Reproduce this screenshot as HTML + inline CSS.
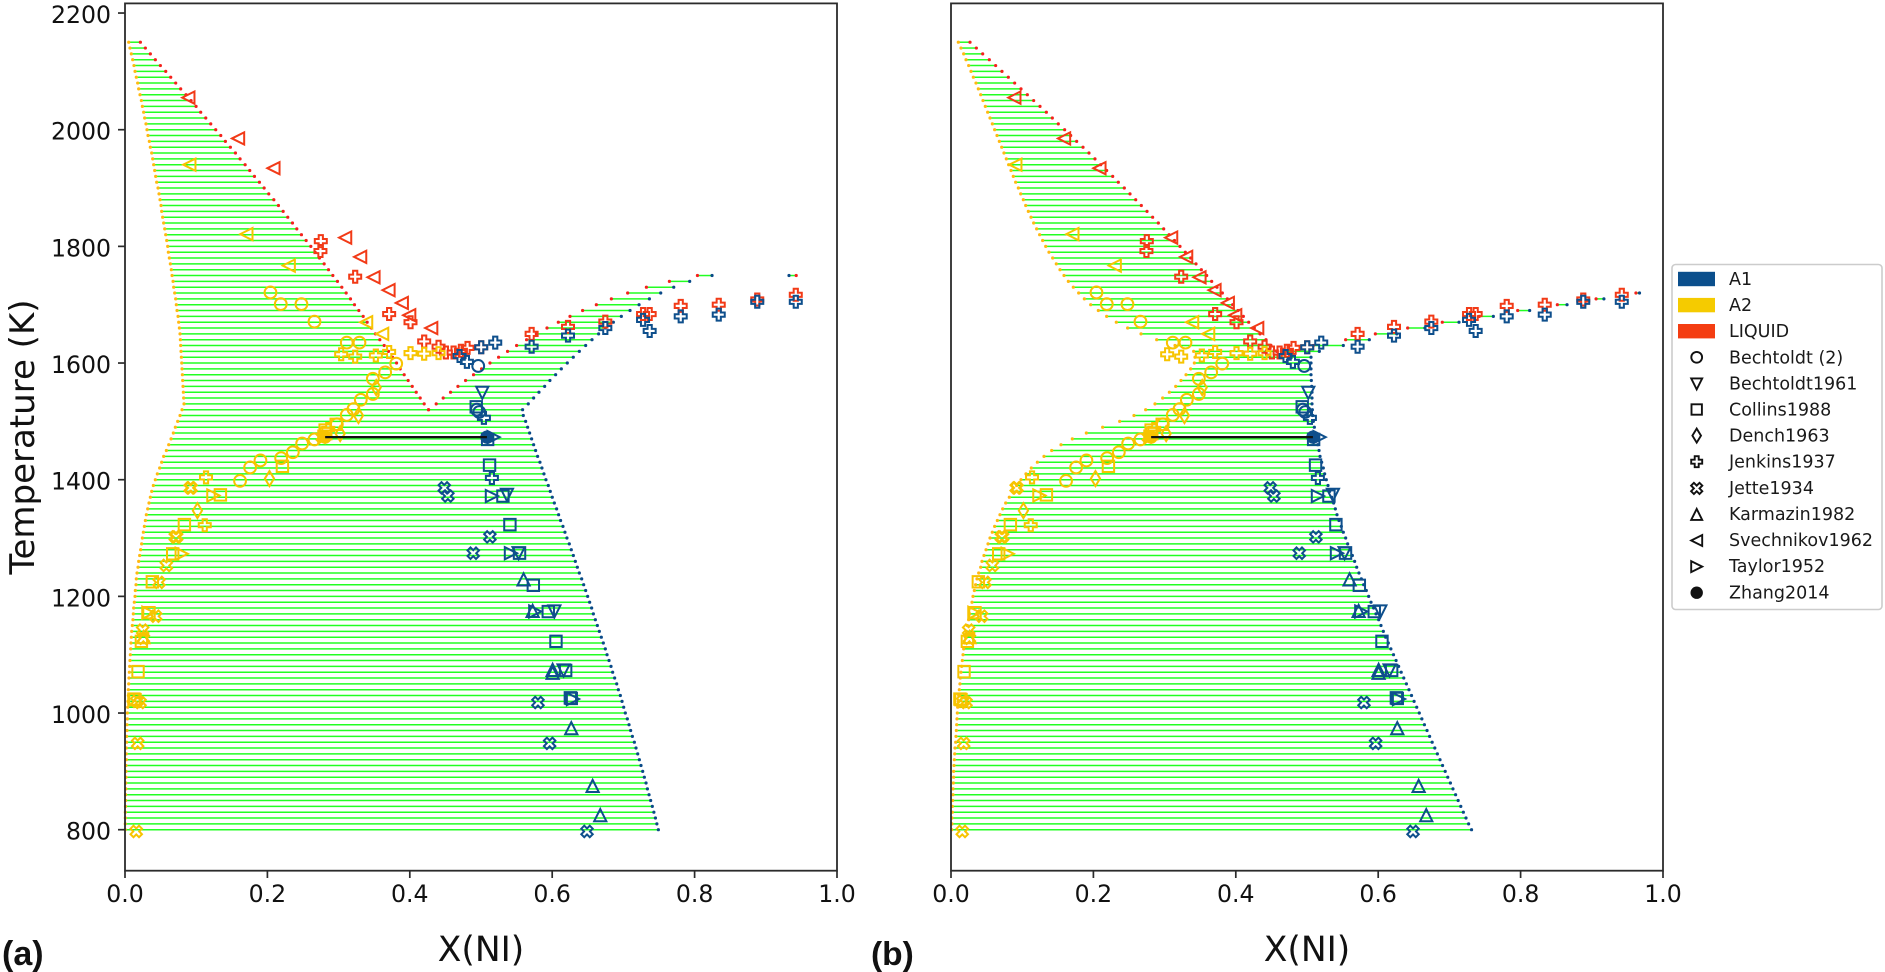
<!DOCTYPE html>
<html lang="en">
<head>
<meta charset="utf-8">
<title>Phase diagrams (a) and (b)</title>
<style>
html,body{margin:0;padding:0;background:#fff;width:1885px;height:972px;overflow:hidden}
svg{display:block;font-family:"DejaVu Sans","Liberation Sans",sans-serif}
.leg{font-size:17.5px;fill:#1a1a1a}
.mk{fill:none;stroke:#111;stroke-width:1.9}
</style>
</head>
<body>
<svg id="chart" xmlns="http://www.w3.org/2000/svg" width="1885" height="972" viewBox="0 0 1885 972">
  <rect width="1885" height="972" fill="#fff"/>
  <g id="panel-a"></g>
  <g id="panel-b"></g>
  <text x="2" y="965" font-family="'Liberation Sans',sans-serif" font-weight="bold" font-size="34" fill="#111">(a)</text>
  <text x="871" y="965" font-family="'Liberation Sans',sans-serif" font-weight="bold" font-size="33.5" fill="#111">(b)</text>
  <text transform="translate(34,437) rotate(-90)" text-anchor="middle" font-size="34" fill="#111">Temperature (K)</text>
  <g>
    <rect x="1672" y="264.5" width="210" height="345" rx="3.5" fill="#fff" stroke="#ccc" stroke-width="1.6"/>
    <g><rect x="1678" y="271.8" width="37" height="14.4" fill="#0B4F8C"/><text class="leg" x="1729" y="285">A1</text></g>
    <g><rect x="1678" y="297.9" width="37" height="14.4" fill="#F5CB00"/><text class="leg" x="1729" y="311.1">A2</text></g>
    <g><rect x="1678" y="324" width="37" height="14.4" fill="#F43D12"/><text class="leg" x="1729" y="337.2">LIQUID</text></g>
    <g><circle class="mk" cx="1696.7" cy="357.3" r="5.4"/><text class="leg" x="1729" y="363.3">Bechtoldt (2)</text></g>
    <g><path class="mk" d="M1691.2 378.4H1702.2L1696.7 389.4Z"/><text class="leg" x="1729" y="389.4">Bechtoldt1961</text></g>
    <g><rect class="mk" x="1691.5" y="404.3" width="10.4" height="10.4"/><text class="leg" x="1729" y="415.5">Collins1988</text></g>
    <g><path class="mk" d="M1696.7 428.6L1701 435.6L1696.7 442.6L1692.4 435.6Z"/><text class="leg" x="1729" y="441.6">Dench1963</text></g>
    <g><path class="mk" d="M1694.7 456.2H1698.7V459.7H1702.2V463.7H1698.7V467.2H1694.7V463.7H1691.2V459.7H1694.7Z"/><text class="leg" x="1729" y="467.7">Jenkins1937</text></g>
    <g><path class="mk" d="M1693.9 482.8L1696.7 485.6L1699.5 482.8L1702.3 485.6L1699.5 488.4L1702.3 491.2L1699.5 494L1696.7 491.2L1693.9 494L1691.1 491.2L1693.9 488.4L1691.1 485.6Z"/><text class="leg" x="1729" y="493.8">Jette1934</text></g>
    <g><path class="mk" d="M1696.7 508.9L1702.2 519.9H1691.2Z"/><text class="leg" x="1729" y="520">Karmazin1982</text></g>
    <g><path class="mk" d="M1691.2 540.5L1702.2 535V546Z"/><text class="leg" x="1729" y="546.1">Svechnikov1962</text></g>
    <g><path class="mk" d="M1702.2 566.6L1691.2 561.1V572.1Z"/><text class="leg" x="1729" y="572.2">Taylor1952</text></g>
    <g><circle cx="1696.7" cy="592.7" r="6.2" fill="#111"/><text class="leg" x="1729" y="598.3">Zhang2014</text></g>
  </g>
</svg>
<script>
/* ---------- axis ticks ---------- */
const xTickValues = [0.0, 0.2, 0.4, 0.6, 0.8, 1.0];
const xTickLabels = ["0.0", "0.2", "0.4", "0.6", "0.8", "1.0"];
const yTickValues = [800, 1000, 1200, 1400, 1600, 1800, 2000, 2200];
const yTickLabels = ["800", "1000", "1200", "1400", "1600", "1800", "2000", "2200"];

/* ---------- panel (a) tie lines ---------- */
const aTempsUpper = [2150,2140,2130,2120,2110,2100,2090,2080,2070,2060,2050,2040,2030,2020,2010,2000,1990,1980,1970,1960,1950,1940,1930,1920,1910,1900,1890,1880,1870,1860,1850,1840,1830,1820,1810,1800,1790,1780,1770,1760,1750,1740,1730,1720,1710,1700,1690,1680,1670,1660,1650,1640,1630,1620,1610,1600,1590,1580,1570,1560,1550,1540,1530,1520];
const aA2Upper = [.0052,.0070,.0089,.0108,.0126,.0141,.0159,.0178,.0192,.0211,.0230,.0244,.0262,.0276,.0295,.0309,.0323,.0342,.0356,.0375,.0389,.0403,.0417,.0431,.0445,.0464,.0478,.0492,.0506,.0515,.0529,.0543,.0558,.0572,.0586,.0600,.0609,.0623,.0637,.0651,.0661,.0675,.0684,.0698,.0712,.0721,.0731,.0745,.0754,.0764,.0773,.0778,.0782,.0787,.0792,.0797,.0801,.0806,.0810,.0815,.0820,.0824,.0829,.0801];
const aLiquidLeft = [.0216,.0286,.0356,.0426,.0497,.0572,.0642,.0712,.0782,.0857,.0928,.0998,.1063,.1134,.1204,.1274,.1345,.1410,.1480,.1551,.1616,.1687,.1752,.1818,.1888,.1954,.2019,.2090,.2155,.2221,.2286,.2352,.2413,.2478,.2544,.2610,.2670,.2731,.2797,.2858,.2919,.2984,.3045,.3106,.3167,.3223,.3284,.3345,.3401,.3462,.3518,.3579,.3640,.3701,.3757,.3814,.3865,.3921,.3977,.4034,.4090,.4146,.4202,.4263];
const aTempsRight = [1750,1740,1730,1720,1710,1700,1690,1680,1670,1660,1650,1640,1630,1620,1610,1600,1590,1580,1570,1560,1550,1540,1530,1520];
const aLiquidRight = [.8040,.7646,.7323,.7060,.6831,.6620,.6427,.6250,.6086,.5927,.5777,.5640,.5500,.5373,.5247,.5126,.5008,.4895,.4783,.4676,.4572,.4469,.4371,.4263];
const aA1Right = [.8245,.7931,.7707,.7524,.7365,.7220,.7093,.6971,.6859,.6746,.6652,.6559,.6470,.6381,.6296,.6212,.6128,.6048,.5968,.5894,.5814,.5739,.5664,.5584];
const aTempsLower = [1510,1500,1490,1480,1470,1460,1450,1440,1430,1420,1410,1400,1390,1380,1370,1360,1350,1340,1330,1320,1310,1300,1290,1280,1270,1260,1250,1240,1230,1220,1210,1200,1190,1180,1170,1160,1150,1140,1130,1120,1110,1100,1090,1080,1070,1060,1050,1040,1030,1020,1010,1000,990,980,970,960,950,940,930,920,910,900,890,880,870,860,850,840,830,820,810,800];
const aA2Lower = [.0773,.0740,.0707,.0679,.0647,.0614,.0581,.0543,.0515,.0487,.0454,.0426,.0398,.0375,.0356,.0337,.0319,.0300,.0286,.0272,.0258,.0244,.0234,.0220,.0206,.0192,.0183,.0169,.0159,.0155,.0145,.0141,.0131,.0122,.0117,.0112,.0103,.0094,.0089,.0084,.0080,.0075,.0070,.0066,.0061,.0056,.0052,.0047,.0047,.0042,.0038,.0033,.0033,.0028,.0028,.0023,.0023,.0019,.0019,.0019,.0014,.0014,.0014,.0012,.0012,.0009,.0009,.0007,.0005,.0005,.0004,.0003];
const aA1Lower = [.5594,.5627,.5655,.5683,.5711,.5739,.5767,.5795,.5828,.5856,.5884,.5912,.5945,.5973,.6001,.6030,.6062,.6090,.6118,.6151,.6179,.6207,.6240,.6268,.6297,.6325,.6353,.6381,.6414,.6442,.6470,.6498,.6526,.6554,.6578,.6606,.6634,.6662,.6690,.6718,.6746,.6770,.6798,.6826,.6849,.6877,.6906,.6929,.6957,.6981,.7004,.7027,.7055,.7079,.7102,.7126,.7154,.7177,.7201,.7224,.7247,.7271,.7294,.7318,.7337,.7360,.7383,.7406,.7428,.7450,.7470,.7491];
const aIslandTemps = [1750];
const aIslandA1 = [.9326];
const aIslandLiquid = [.9427];

/* ---------- panel (b) tie lines ---------- */
const bTempsUpper = [2150,2140,2130,2120,2110,2100,2090,2080,2070,2060,2050,2040,2030,2020,2010,2000,1990,1980,1970,1960,1950,1940,1930,1920,1910,1900,1890,1880,1870,1860,1850,1840,1830,1820,1810,1800,1790,1780,1770,1760,1750,1740,1730,1720,1710,1700,1690,1680,1670,1660,1650,1640,1630,1620];
const bA2Upper = [.0103,.0140,.0178,.0211,.0248,.0281,.0314,.0351,.0384,.0417,.0449,.0482,.0515,.0548,.0581,.0613,.0646,.0679,.0712,.0744,.0777,.0810,.0843,.0875,.0908,.0946,.0979,.1016,.1049,.1086,.1124,.1161,.1203,.1245,.1287,.1330,.1376,.1428,.1479,.1531,.1587,.1648,.1718,.1793,.1873,.1962,.2069,.2186,.2322,.2481,.2669,.2889,.3146,.3408];
const bLiquidLeft = [.0267,.0356,.0445,.0538,.0627,.0716,.0805,.0894,.0983,.1072,.1161,.1250,.1339,.1423,.1507,.1596,.1681,.1765,.1854,.1938,.2022,.2102,.2186,.2271,.2350,.2434,.2514,.2594,.2673,.2753,.2832,.2912,.2987,.3063,.3139,.3216,.3291,.3366,.3441,.3516,.3591,.3661,.3736,.3811,.3881,.3956,.4031,.4106,.4181,.4260,.4340,.4424,.4494,.4574];
const bTempsRight = [1720,1710,1700,1690,1680,1670,1660,1650,1640,1630,1620];
const bLiquidRight = [.9620,.9060,.8516,.7959,.7420,.6900,.6414,.5960,.5543,.5089,.4640];
const bA1Right = [.9670,.9170,.8652,.8127,.7617,.7135,.6657,.6262,.5875,.5510,.5173];
const bTempsLower = [1610,1600,1590,1580,1570,1560,1550,1540,1530,1520,1510,1500,1490,1480,1470,1460,1450,1440,1430,1420,1410,1400,1390,1380,1370,1360,1350,1340,1330,1320,1310,1300,1290,1280,1270,1260,1250,1240,1230,1220,1210,1200,1190,1180,1170,1160,1150,1140,1130,1120,1110,1100,1090,1080,1070,1060,1050,1040,1030,1020,1010,1000,990,980,970,960,950,940,930,920,910,900,890,880,870,860,850,840,830,820,810,800];
const bA2Lower = [.3427,.3418,.3366,.3301,.3230,.3156,.3067,.2973,.2865,.2734,.2570,.2369,.2130,.1901,.1704,.1545,.1414,.1306,.1213,.1128,.1053,.0983,.0922,.0866,.0819,.0768,.0726,.0688,.0651,.0613,.0580,.0548,.0520,.0492,.0463,.0435,.0417,.0389,.0365,.0346,.0328,.0309,.0295,.0276,.0262,.0248,.0229,.0215,.0201,.0192,.0178,.0169,.0159,.0150,.0140,.0131,.0126,.0117,.0108,.0103,.0094,.0089,.0084,.0080,.0075,.0070,.0066,.0056,.0052,.0047,.0042,.0037,.0037,.0033,.0028,.0028,.0023,.0019,.0019,.0014,.0014,.0009];
const bA1Lower = [.5056,.5056,.5056,.5056,.5061,.5066,.5070,.5070,.5070,.5075,.5080,.5089,.5103,.5117,.5136,.5150,.5169,.5183,.5206,.5229,.5248,.5271,.5295,.5318,.5346,.5374,.5398,.5421,.5449,.5482,.5510,.5543,.5571,.5604,.5637,.5669,.5698,.5730,.5763,.5796,.5833,.5866,.5899,.5936,.5969,.6007,.6039,.6072,.6105,.6142,.6178,.6215,.6251,.6287,.6323,.6359,.6396,.6432,.6468,.6504,.6541,.6577,.6613,.6649,.6686,.6722,.6758,.6795,.6831,.6868,.6904,.6941,.6977,.7014,.7050,.7087,.7123,.7160,.7196,.7233,.7270,.7311];

/* ---------- measured tie line ---------- */
const zhangTieX = [.2811, .5083];
const zhangTieT = [1473, 1473];

/* ---------- experimental points: Bechtoldt (2) ---------- */
const bechtoldt2A2X = [.1616,.1757,.1902,.2193,.2357,.2488,.2661,.2975,.3115,.3209,.3312,.3481,.3481,.3654,.3809,.2043,.2188,.2478,.2661,.3115,.3293];
const bechtoldt2A2T = [1398,1421,1433,1437,1447,1462,1469,1495,1511,1521,1537,1547,1573,1584,1599,1721,1701,1701,1671,1635,1635];
const bechtoldt2A1X = [.4961,.4942,.4975];
const bechtoldt2A1T = [1595,1520,1516];
/* Bechtoldt1961 */
const bechtoldt61A2X = [.2811];
const bechtoldt61A2T = [1474];
const bechtoldt61A1X = [.5018,.5364,.5528,.6030,.6160];
const bechtoldt61A1T = [1549,1374,1274,1174,1073];
/* Collins1988 */
const collinsA2X = [.2211,.1340,.0834,.0670,.0384,.0337,.0230,.0183,.0141,.0125,.2820,.2966,.2811];
const collinsA2T = [1423,1374,1323,1273,1225,1172,1123,1071,1023,1024,1479,1495,1485];
const collinsA1X = [.4933,.5093,.5120,.5308,.5406,.5541,.5735,.5945,.6053,.6189,.6268,.6255];
const collinsA1T = [1525,1469,1425,1372,1323,1274,1219,1174,1123,1073,1025,1026];
/* Dench1963 */
const denchA2X = [.1017,.2029,.3279,.3022,.3528];
const denchA2T = [1347,1402,1510,1479,1558];
/* Jenkins1937 */
const jenkinsLiquidX = [.2750,.2745,.3233,.3710,.4010,.4202,.4404,.4507,.4615,.4718,.4811,.5003,.5711,.6222,.6746,.7276,.7369,.7805,.8339,.8880,.9421];
const jenkinsLiquidT = [1809,1792,1748,1684,1670,1637,1628,1618,1618,1621,1626,1627,1650,1662,1671,1684,1684,1698,1700,1709,1717];
const jenkinsA1X = [.5003,.5200,.4699,.4802,.5711,.6222,.6746,.7276,.7369,.7805,.8339,.8880,.9421,.5041,.5153];
const jenkinsA1T = [1627,1635,1612,1602,1628,1647,1660,1674,1655,1680,1683,1705,1705,1506,1403];
const jenkinsA2X = [.3036,.3233,.3523,.3710,.4010,.4202,.4404,.1138,.1120,.2855];
const jenkinsA2T = [1615,1611,1613,1619,1617,1616,1617,1404,1322,1487];
/* Jette1934 */
const jetteA2X = [.0928,.0915,.0726,.0706,.0581,.0478,.0431,.0248,.0258,.0211,.0165,.0178,.0158,.2770];
const jetteA2T = [1386,1386,1302,1302,1253,1224,1166,1142,1128,1018,1020,948,797,1473];
const jetteA1X = [.4484,.4535,.5125,.4891,.5800,.5964,.6489];
const jetteA1T = [1386,1372,1302,1274,1018,948,797];
/* Karmazin1982 */
const karmazinA2X = [.0260];
const karmazinA2T = [1130];
const karmazinA1X = [.5598,.5725,.6006,.6006,.6268,.6568,.6675];
const karmazinA1T = [1229,1175,1074,1069,974,875,825];
/* Svechnikov1962 */
const svechnikovLiquidX = [.0890,.1588,.2085,.3092,.3303,.3490,.3701,.3888,.3992,.4301];
const svechnikovLiquidT = [2055,1985,1934,1815,1782,1747,1725,1703,1682,1660];
const svechnikovA2X = [.0904,.1705,.2300,.3387,.3612];
const svechnikovA2T = [1940,1821,1767,1670,1650];
/* Taylor1952 */
const taylorA2X = [.1241,.0796,.0328,.2800];
const taylorA2T = [1373,1273,1172,1473];
const taylorA1X = [.5153,.5420,.5762,.6292,.5177];
const taylorA1T = [1372,1274,1174,1024,1473];
/* Zhang2014 */
const zhangA2X = [.2811];
const zhangA2T = [1473];
const zhangA1X = [.5083];
const zhangA1T = [1473];

const COL = {A1:"#0E4F8C", A2:"#F7C400", LIQ:"#F23A17", dotA1:"#0A4A88", dotA2:"#FFB910", dotLIQ:"#F4221C", tie:"#22FF22"};
const SVGNS = "http://www.w3.org/2000/svg";

function yScale(T){ return 829.7 - (T - 800) * 0.58333; }
function xScale(left, X){ return left + X * 712; }
function node(tag, parent){
  const n = document.createElementNS(SVGNS, tag);
  parent.appendChild(n);
  return n;
}

function drawAxes(g, left, showY){
  const frame = node("rect", g);
  
  
  frame.setAttribute("x", left); frame.setAttribute("y", 3.4);
  frame.setAttribute("width", 712); frame.setAttribute("height", 867.3);
  frame.setAttribute("fill", "none"); frame.setAttribute("stroke", "#2b2b2b"); frame.setAttribute("stroke-width", 1.8);
  xTickValues.forEach((v, i) => {
    const t = node("line", g);
    
    
    t.setAttribute("x1", xScale(left, v)); t.setAttribute("x2", xScale(left, v));
    t.setAttribute("y1", 870.7); t.setAttribute("y2", 878);
    t.setAttribute("stroke", "#2b2b2b"); t.setAttribute("stroke-width", 1.7);
    const lb = node("text", g);
    
    
    lb.setAttribute("x", xScale(left, v)); lb.setAttribute("y", 902);
    lb.setAttribute("text-anchor", "middle"); lb.setAttribute("font-size", 23.6); lb.setAttribute("fill", "#111");
    lb.textContent = xTickLabels[i];
  });
  if (showY) {
    yTickValues.forEach((v, i) => {
      const t = node("line", g);
      
      
      t.setAttribute("x1", left - 7); t.setAttribute("x2", left);
      t.setAttribute("y1", yScale(v)); t.setAttribute("y2", yScale(v));
      t.setAttribute("stroke", "#2b2b2b"); t.setAttribute("stroke-width", 1.7);
      const lb = node("text", g);
      
      
      lb.setAttribute("x", left - 14); lb.setAttribute("y", yScale(v) + 10);
      lb.setAttribute("text-anchor", "end"); lb.setAttribute("font-size", 23.6); lb.setAttribute("fill", "#111");
      lb.textContent = yTickLabels[i];
    });
  }
  const title = node("text", g);
  
  
  title.setAttribute("x", left + 356); title.setAttribute("y", 961);
  title.setAttribute("text-anchor", "middle"); title.setAttribute("font-size", 34.5); title.setAttribute("fill", "#111");
  title.textContent = "X(NI)";
}

function drawTies(lineLayer, dotLayer, left, temps, xa, xb, colA, colB){
  temps.forEach((T, i) => {
    const y = yScale(T);
    const x1 = xScale(left, xa[i]);
    const x2 = xScale(left, xb[i]);
    const l = node("line", lineLayer);
    
    
    l.setAttribute("x1", x1); l.setAttribute("x2", x2);
    l.setAttribute("y1", y); l.setAttribute("y2", y);
    l.setAttribute("stroke", COL.tie); l.setAttribute("stroke-width", 1.5);
    const d1 = node("circle", dotLayer);
    
    
    d1.setAttribute("cx", x1); d1.setAttribute("cy", y); d1.setAttribute("r", 1.6); d1.setAttribute("fill", colA);
    const d2 = node("circle", dotLayer);
    
    
    d2.setAttribute("cx", x2); d2.setAttribute("cy", y); d2.setAttribute("r", 1.6); d2.setAttribute("fill", colB);
  });
}

function plusPoints(h, a, rot){
  const base = [[-a,-h],[a,-h],[a,-a],[h,-a],[h,a],[a,a],[a,h],[-a,h],[-a,a],[-h,a],[-h,-a],[-a,-a]];
  const c = Math.cos(rot), s = Math.sin(rot);
  return base.map(p => [p[0]*c - p[1]*s, p[0]*s + p[1]*c]);
}
function shapePath(shape, x, y){
  const r = 6.1;
  let pts;
  if (shape === "down") pts = [[-r,-r],[r,-r],[0,r]];
  else if (shape === "up") pts = [[0,-r],[r,r],[-r,r]];
  else if (shape === "left") pts = [[-r,0],[r,-r],[r,r]];
  else if (shape === "right") pts = [[r,0],[-r,-r],[-r,r]];
  else if (shape === "square") pts = [[-5.7,-5.7],[5.7,-5.7],[5.7,5.7],[-5.7,5.7]];
  else if (shape === "diamond") pts = [[0,-7.5],[4.6,0],[0,7.5],[-4.6,0]];
  else if (shape === "plus") pts = plusPoints(6, 2.1, 0);
  else pts = plusPoints(6, 2.1, Math.PI / 4);
  return "M" + pts.map(p => (x + p[0]).toFixed(2) + " " + (y + p[1]).toFixed(2)).join("L") + "Z";
}

function drawMarkers(g, left, shape, color, xs, ts, seriesName){
  xs.forEach((X, i) => {
    const px = xScale(left, X);
    const py = yScale(ts[i]);
    let m;
    if (shape === "circle" || shape === "filled") {
      m = node("circle", g);
      m.setAttribute("cx", px); m.setAttribute("cy", py);
      m.setAttribute("r", shape === "filled" ? 6.6 : 5.9);
    } else {
      m = node("path", g);
      m.setAttribute("d", shapePath(shape, px, py));
    }
    
    
    if (shape === "filled") {
      m.setAttribute("fill", color);
    } else {
      m.setAttribute("fill", "none");
      m.setAttribute("stroke", color);
      m.setAttribute("stroke-width", 2);
    }
  });
}

const markerSeries = [
  ["circle", COL.A2, bechtoldt2A2X, bechtoldt2A2T, "bechtoldt-2-a2-point"],
  ["circle", COL.A1, bechtoldt2A1X, bechtoldt2A1T, "bechtoldt-2-a1-point"],
  ["down", COL.A2, bechtoldt61A2X, bechtoldt61A2T, "bechtoldt1961-a2-point"],
  ["down", COL.A1, bechtoldt61A1X, bechtoldt61A1T, "bechtoldt1961-a1-point"],
  ["square", COL.A2, collinsA2X, collinsA2T, "collins1988-a2-point"],
  ["square", COL.A1, collinsA1X, collinsA1T, "collins1988-a1-point"],
  ["diamond", COL.A2, denchA2X, denchA2T, "dench1963-a2-point"],
  ["plus", COL.LIQ, jenkinsLiquidX, jenkinsLiquidT, "jenkins1937-liquid-point"],
  ["plus", COL.A1, jenkinsA1X, jenkinsA1T, "jenkins1937-a1-point"],
  ["plus", COL.A2, jenkinsA2X, jenkinsA2T, "jenkins1937-a2-point"],
  ["cross", COL.A2, jetteA2X, jetteA2T, "jette1934-a2-point"],
  ["cross", COL.A1, jetteA1X, jetteA1T, "jette1934-a1-point"],
  ["up", COL.A2, karmazinA2X, karmazinA2T, "karmazin1982-a2-point"],
  ["up", COL.A1, karmazinA1X, karmazinA1T, "karmazin1982-a1-point"],
  ["left", COL.LIQ, svechnikovLiquidX, svechnikovLiquidT, "svechnikov1962-liquid-point"],
  ["left", COL.A2, svechnikovA2X, svechnikovA2T, "svechnikov1962-a2-point"],
  ["right", COL.A2, taylorA2X, taylorA2T, "taylor1952-a2-point"],
  ["right", COL.A1, taylorA1X, taylorA1T, "taylor1952-a1-point"],
  ["filled", COL.A2, zhangA2X, zhangA2T, "zhang2014-a2-point"],
  ["filled", COL.A1, zhangA1X, zhangA1T, "zhang2014-a1-point"]
];

function drawPanel(id, left, showY, ties){
  const g = document.getElementById(id);
  const lineLayer = node("g", g);
  
  
  const dotLayer = node("g", g);
  
  
  ties.forEach(t => drawTies(lineLayer, dotLayer, left, t[0], t[1], t[2], t[3], t[4]));
  const markerLayer = node("g", g);
  
  
  markerSeries.forEach(s => drawMarkers(markerLayer, left, s[0], s[1], s[2], s[3], s[4]));
  const tie = node("line", g);
  
  
  tie.setAttribute("x1", xScale(left, zhangTieX[0])); tie.setAttribute("x2", xScale(left, zhangTieX[1]));
  tie.setAttribute("y1", yScale(zhangTieT[0])); tie.setAttribute("y2", yScale(zhangTieT[1]));
  tie.setAttribute("stroke", "#111"); tie.setAttribute("stroke-width", 2.2);
  drawAxes(g, left, showY);
}

drawPanel("panel-a", 125, true, [
  [aTempsUpper, aA2Upper, aLiquidLeft, COL.dotA2, COL.dotLIQ],
  [aTempsRight, aLiquidRight, aA1Right, COL.dotLIQ, COL.dotA1],
  [aTempsLower, aA2Lower, aA1Lower, COL.dotA2, COL.dotA1],
  [aIslandTemps, aIslandA1, aIslandLiquid, COL.dotA1, COL.dotLIQ]
]);
drawPanel("panel-b", 951, false, [
  [bTempsUpper, bA2Upper, bLiquidLeft, COL.dotA2, COL.dotLIQ],
  [bTempsRight, bLiquidRight, bA1Right, COL.dotLIQ, COL.dotA1],
  [bTempsLower, bA2Lower, bA1Lower, COL.dotA2, COL.dotA1]
]);
</script>
</body>
</html>
